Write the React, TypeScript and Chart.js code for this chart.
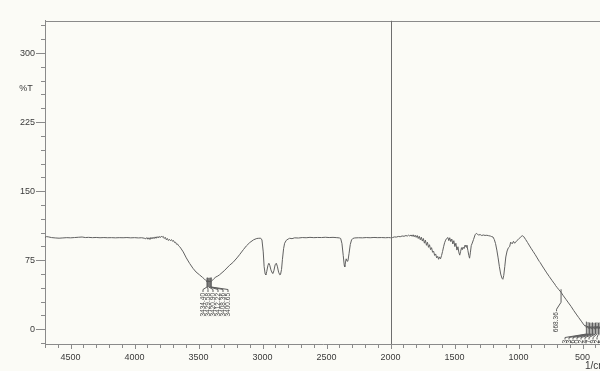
import React, { useEffect, useRef } from "react";
import { Chart, registerables } from "chart.js";

Chart.register(...registerables);

// FTIR transmittance spectrum, 4700 -> 2000 1/cm
const highWn = [
  4700, 4690, 4675, 4650, 4620, 4590, 4560, 4530, 4500, 4470, 4440, 4410, 4385, 4360, 4330, 4300,
  4270, 4240, 4210, 4180, 4150, 4120, 4090, 4060, 4030, 4000, 3970, 3945, 3925, 3912, 3904, 3896,
  3888, 3880, 3872, 3864, 3856, 3848, 3840, 3832, 3824, 3816, 3808, 3800, 3792, 3784, 3776, 3768,
  3760, 3752, 3744, 3736, 3728, 3720, 3712, 3704, 3696, 3688, 3680, 3672, 3664, 3656, 3648, 3640,
  3620, 3596, 3570, 3544, 3520, 3492, 3470, 3455, 3445, 3438, 3434.4, 3431.5, 3429.58, 3425, 3420.9,
  3416, 3412.22, 3410.3, 3408.36, 3404, 3400.65, 3392, 3380, 3365, 3350, 3336, 3300, 3258, 3232,
  3200, 3180, 3150, 3127, 3100, 3070, 3045, 3030, 3015, 3005, 2995, 2988, 2980, 2975, 2968, 2958,
  2951, 2944, 2935, 2925, 2919, 2912, 2902, 2893, 2885, 2875, 2866, 2860, 2852, 2845, 2836, 2828,
  2815, 2800, 2789, 2770, 2750, 2720, 2690, 2660, 2630, 2600, 2570, 2540, 2510, 2480, 2450, 2420,
  2400, 2390, 2380, 2370, 2362, 2358, 2352, 2347, 2340, 2333, 2325, 2315, 2305, 2295, 2280, 2250,
  2220, 2190, 2160, 2130, 2100, 2070, 2040, 2015,
];
const highT = [
  99.6, 100.6, 100.4, 99.6, 99.2, 98.9, 99.2, 99.5, 99.3, 99.6, 99.9, 100.2, 99.6, 99.8, 99.5, 99.7,
  99.4, 99.6, 99.4, 99.5, 99.3, 99.5, 99.4, 99.6, 99.3, 99.5, 99.2, 99.4, 98.9, 98.2, 99.6, 97.8,
  99.4, 97.5, 99.8, 98.1, 100, 98.4, 100.3, 98.8, 100.6, 99.2, 100.9, 99.5, 101, 100.2, 100.8, 98.6,
  99.8, 97.2, 98.6, 96.4, 97.6, 96.2, 97.4, 95.6, 96.4, 94.2, 94.5, 92.3, 92.5, 90.6, 89.7, 88.2,
  84, 77.5, 71.5, 66.2, 62.2, 59, 56.4, 54.6, 53.2, 52.7, 51.6, 52.4, 51.8, 52.6, 51.5,
  52.3, 51.6, 52.1, 51.7, 52.4, 51.9, 53.2, 55, 56.8, 57.8, 59.2, 63.5, 69.5, 72.5,
  77.5, 81, 86.5, 90.5, 94.2, 97.2, 98.6, 98.8, 98.9, 97, 84, 68, 60, 59, 62.5, 69.5,
  71.7, 69.5, 64.5, 61.2, 60.8, 63.5, 70, 71.7, 68.5, 62, 59.2, 59.5, 65, 76, 87.5, 93.4,
  96.6, 98, 98.8, 98.4, 99.3, 99.1, 99.6, 99.4, 99.8, 99.5, 99.7, 99.6, 99.9, 99.6, 99.8, 99.5,
  99.2, 98.6, 93, 80, 69.5, 67.8, 73, 76.5, 74, 74.5, 82, 92, 97, 98.6, 99.2, 99.4,
  99.3, 99.6, 99.4, 99.7, 99.5, 99.6, 99.4, 99.6,
];

// 2000 -> 350 1/cm
const lowWn = [
  2000, 1985, 1970, 1955, 1940, 1925, 1910, 1895, 1880, 1870, 1860, 1850, 1840, 1832, 1824, 1816,
  1808, 1800, 1792, 1784, 1776, 1768, 1760, 1752, 1744, 1736, 1728, 1720, 1712, 1704, 1696, 1688,
  1680, 1672, 1664, 1656, 1648, 1640, 1632, 1625, 1618, 1610, 1602, 1594, 1586, 1578, 1570, 1562,
  1552, 1545, 1538, 1530, 1522, 1514, 1506, 1498, 1490, 1482, 1474, 1466, 1460, 1453, 1446, 1440,
  1434, 1426, 1418, 1410, 1404, 1396, 1389, 1383, 1377, 1370, 1362, 1352, 1340, 1330, 1322, 1312,
  1300, 1288, 1276, 1262, 1248, 1234, 1220, 1210, 1200, 1190, 1180, 1170, 1160, 1150, 1140, 1130,
  1123, 1116, 1108, 1100, 1090, 1080, 1070, 1062, 1050, 1040, 1031, 1018, 1005, 992, 980, 971,
  960, 945, 930, 914, 900, 885, 870, 855, 845, 838, 832, 820, 800, 780, 760, 740,
  725, 718, 712, 700, 685, 668.36, 650, 630, 610, 590, 570, 550, 530, 510, 495, 482,
  476, 470.63, 463, 457.13, 451, 445.56, 440, 434, 428, 422.42, 416, 410.84, 405, 399.27, 393, 387.69,
  382, 376.12, 370, 364.55, 358, 350,
];
const lowT = [
  99.4, 99.6, 100.3, 100.1, 100.8, 100.5, 101.3, 101, 101.8, 101.2, 102.2, 101.3, 102.4, 100.9, 102.6, 100.4,
  102.2, 99.8, 101.8, 98.6, 101, 97.2, 100, 95.8, 98.6, 93.5, 96.8, 91.2, 94.5, 89, 91.8, 86.5,
  88.6, 83.6, 84.8, 80.2, 81.8, 77.5, 79.2, 76, 78.6, 76.5, 80, 84.5, 89.6, 94, 96.8, 98.6,
  99.6, 96.2, 99.4, 95.2, 98, 92.6, 96.2, 89.8, 93.4, 86, 89.6, 83, 80.5, 84.6, 88.6, 86.4,
  89.2, 87.6, 91.5, 89.2, 91.4, 85.5, 80.2, 77.2, 83, 90.8, 93.6, 97.5, 102.6, 104.2, 103.2, 102.4,
  102.8, 101.8, 102.4, 101.9, 102.1, 101.6, 101.2, 100.6, 100.2, 97.5, 93, 86, 77.5, 68, 60, 55.5,
  54.3, 58.5, 68, 78.5, 85, 88.5, 89.7, 94.6, 92.8, 95.5, 93.4, 95.6, 97.2, 99, 100.8, 101.6,
  100.6, 97.5, 94.2, 90.5, 87.4, 84.2, 81, 77.5, 75.2, 73.6, 72.6, 69.8, 65.5, 61.2, 57.2, 53.2,
  50.3, 49.2, 47.6, 45.5, 42.9, 40.2, 36.3, 32.5, 28.6, 24.8, 20.5, 16.5, 12.6, 8.8, 5.8, 3.6,
  4, 1.8, 3.5, 1.2, 3.2, 0.8, 2.9, 0.6, 3, 0.9, 2.8, 0.5, 3.1, 0.7, 2.9, 1,
  3.2, 0.6, 2.7, 0.9, 2.6, 1.5,
];

// Picked peaks (wavenumbers of the labelled minima)
const ohPeaks = [3434.4, 3429.58, 3420.9, 3412.22, 3408.36, 3400.65];
const midPeaks = [668.36];
const farPeaks = [470.63, 457.13, 445.56, 434, 422.42, 410.84, 399.27, 387.69, 376.12, 364.55];

// Axis ticks and ranges
const xTickValues = [4500, 4000, 3500, 3000, 2500, 2000, 1500, 1000, 500];
const yTickValues = [0, 75, 150, 225, 300];
const xMinorStep = 100;
const yMinorStep = 15;
const xRange = [350, 4700];
const yRange = [-16, 335];
const dividerWn = 2000;
const yTitle = "%T";
const xUnit = "1/cm";

const wavenumbers = [...highWn, ...lowWn];
const transmittance = [...highT, ...lowT];

const FONT = "'Liberation Sans', Arial, Helvetica, sans-serif";
const INK = "#3a3a3a";
const FRAME = "#8a8a8a";
const BG = "#fbfbf6";

const crisp = (v: number) => Math.round(v) + 0.5;

function seg(ctx: CanvasRenderingContext2D, x1: number, y1: number, x2: number, y2: number) {
  ctx.beginPath();
  ctx.moveTo(x1, y1);
  ctx.lineTo(x2, y2);
  ctx.stroke();
}

function peakLabel(ctx: CanvasRenderingContext2D, text: string, x: number, top: number) {
  ctx.save();
  ctx.translate(x, top);
  ctx.rotate(-Math.PI / 2);
  ctx.textAlign = "right";
  ctx.textBaseline = "middle";
  ctx.fillText(text, 0, 0);
  ctx.restore();
}

const decorations = {
  id: "spectrumDecorations",
  afterDatasetsDraw(chart: any) {
    const { ctx, chartArea: a, scales } = chart;
    const xs = scales.x;
    const ys = scales.y;
    const valueAt = (wn: number) => transmittance[wavenumbers.indexOf(wn)];
    const px = (wn: number) => xs.getPixelForValue(wn);
    const py = (wn: number) => ys.getPixelForValue(valueAt(wn));

    ctx.save();
    ctx.lineWidth = 1;
    ctx.strokeStyle = FRAME;

    // top frame line
    seg(ctx, a.left, crisp(a.top), a.right + 20, crisp(a.top));

    // y ticks: major with labels, minor every 15
    for (let v = Math.ceil(yRange[0] / yMinorStep) * yMinorStep; v <= yRange[1]; v += yMinorStep) {
      const y = crisp(ys.getPixelForValue(v));
      const len = yTickValues.includes(v) ? 9 : 4;
      seg(ctx, a.left - len, y, a.left, y);
    }
    // x ticks every 100
    for (let w = Math.ceil(xRange[0] / xMinorStep) * xMinorStep; w <= xRange[1]; w += xMinorStep) {
      const x = crisp(px(w));
      const len = xTickValues.includes(w) ? 5 : 4;
      seg(ctx, x, a.bottom, x, a.bottom + len);
    }

    // divider at 2000 1/cm
    ctx.strokeStyle = "#6e6e6e";
    const xd = crisp(px(dividerWn));
    seg(ctx, xd, a.top, xd, a.bottom);

    // axis captions
    ctx.fillStyle = INK;
    ctx.font = `9px ${FONT}`;
    ctx.textAlign = "center";
    ctx.textBaseline = "middle";
    ctx.fillText(yTitle, 26, 89);
    ctx.textAlign = "left";
    ctx.font = `10px ${FONT}`;
    ctx.fillText(xUnit, 585, 366);

    // peak markers and labels
    ctx.strokeStyle = "#5c5c5c";
    ctx.fillStyle = "#444";
    ctx.font = `6.5px ${FONT}`;

    // O-H band group
    const ohX0 = px(ohPeaks[0]) - 4;
    ohPeaks.forEach((wn, i) => {
      const x = px(wn);
      const y = py(wn);
      const lx = ohX0 + i * 5;
      seg(ctx, x, y - 4, x, 287);
      seg(ctx, x, 287, lx, 289.5);
      seg(ctx, lx, 289.5, lx, 292);
      peakLabel(ctx, wn.toFixed(2), lx, 293);
    });

    // single peak on the slope
    midPeaks.forEach((wn) => {
      const x = px(wn);
      const y = py(wn);
      seg(ctx, x, y - 3, x, y + 10);
      seg(ctx, x, y + 10, x - 4.5, y + 17);
      seg(ctx, x - 4.5, y + 17, x - 4.5, y + 19);
      peakLabel(ctx, wn.toFixed(2), x - 4.5, y + 20);
    });

    // low-wavenumber group, clipped at the plot edge
    ctx.save();
    ctx.beginPath();
    ctx.rect(a.left, a.top, a.right - a.left, a.bottom - a.top);
    ctx.clip();
    farPeaks.forEach((wn, i) => {
      const x = px(wn);
      const y = py(wn);
      const lx = 565 + i * 4;
      seg(ctx, x, y - 6, x, 334);
      seg(ctx, x, 334, lx, 337.5);
      seg(ctx, lx, 337.5, lx, 339.5);
      peakLabel(ctx, wn.toFixed(2), lx, 340);
    });
    ctx.restore();

    ctx.restore();
  },
};

export default function App() {
  const canvasRef = useRef<HTMLCanvasElement | null>(null);

  useEffect(() => {
    document.body.style.margin = "0";
    const canvas = canvasRef.current;
    if (!canvas) return;

    const chart = new Chart(canvas, {
      type: "line",
      data: {
        datasets: [
          {
            data: wavenumbers.map((x, i) => ({ x, y: transmittance[i] })),
            borderColor: "#616161",
            borderWidth: 1,
            pointRadius: 0,
            tension: 0,
            fill: false,
          },
        ],
      },
      options: {
        animation: false,
        responsive: false,
        devicePixelRatio: 1,
        layout: { padding: { left: 0, top: 20.8, right: 18.2, bottom: 0 } },
        plugins: {
          legend: { display: false },
          tooltip: { enabled: false },
        },
        scales: {
          x: {
            type: "linear",
            reverse: true,
            min: xRange[0],
            max: xRange[1],
            afterFit: (s: any) => {
              s.height = 27;
            },
            afterBuildTicks: (s: any) => {
              s.ticks = xTickValues.map((value) => ({ value }));
            },
            grid: { display: false, drawTicks: false },
            border: { display: true, color: FRAME, width: 1 },
            ticks: {
              autoSkip: false,
              maxRotation: 0,
              padding: 8,
              color: INK,
              font: { family: FONT, size: 9 },
              callback: (v: any) => String(v),
            },
          },
          y: {
            type: "linear",
            min: yRange[0],
            max: yRange[1],
            afterFit: (s: any) => {
              s.width = 45;
            },
            afterBuildTicks: (s: any) => {
              s.ticks = yTickValues.map((value) => ({ value }));
            },
            grid: { display: false, drawTicks: false },
            border: { display: true, color: FRAME, width: 1 },
            ticks: {
              autoSkip: false,
              padding: 10,
              color: INK,
              font: { family: FONT, size: 9 },
              callback: (v: any) => String(v),
            },
          },
        },
      },
      plugins: [decorations],
    });

    return () => chart.destroy();
  }, []);

  return (
    <div
      style={{
        position: "absolute",
        left: 0,
        top: 0,
        width: 600,
        height: 371,
        overflow: "hidden",
        background: BG,
      }}
    >
      <canvas ref={canvasRef} width={620} height={371} style={{ display: "block" }} />
    </div>
  );
}
